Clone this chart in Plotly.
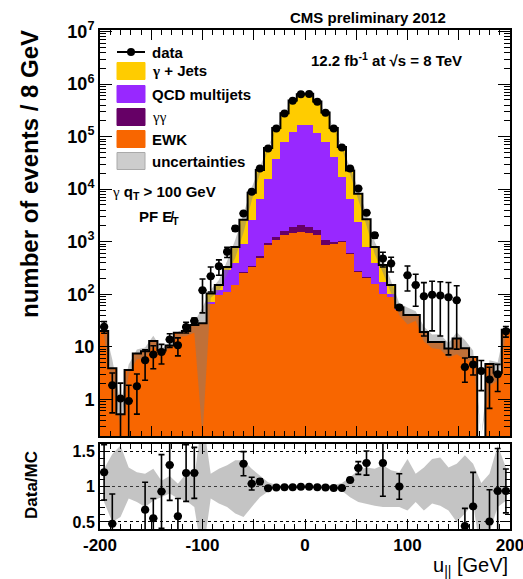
import numpy as np
import plotly.graph_objects as go

# ---------------- data (50 bins of 8 GeV from -200 to 200) ----------------
bin_lo, bin_w, n_bins = -200, 8, 50

data = [24, 1.85, 1.03, 0.93, 1.77, 5.5, 7.1, 7.9, 13.7, 10.7,
        23.8, 31, 119, 220, 340, 640, 1780, 3450, 8900, 24800,
        59600, 143000, 277000, 480000, 640000, 650000, 460000, 285000, 143000, 62000,
        24800, 10300, 3540, 1320, 480, 385, 56, 230, 149, 91,
        98, 94, 87, 77, 4.1, 4.6, 3.46, 2.37, 3.0, 19.7]
data_err = [6, 1.3, 1.0, 0.92, 1.25, 3.2, 3.3, 3.2, 4, 4,
            5.5, 4, 75, 110, 110, 140, 200, 150, 200, 300,
            500, 800, 1000, 1300, 1500, 1500, 1300, 1000, 800, 500,
            300, 250, 250, 150, 150, 120, 6, 115, 90, 75,
            78, 78, 80, 68, 2, 1.7, 2, 1.7, 1.6, 4.5]

ewk = [20, 3.9, 0.52, 3.6, 7.4, 8.2, 12.9, 8.5, 10.5, 18.4,
       20, 26, 28, 67, 96, 110, 149, 260, 330, 500,
       850, 1070, 1320, 1440, 1550, 1480, 1320, 860, 920, 1000,
       600, 265, 205, 155, 103, 89, 50, 40, 40, 19,
       12.3, 12.3, 9.2, 14.3, 9.3, 6.4, 0, 4.7, 3.2, 21]
gamgam = [0, 0, 0, 0, 0, 0, 0, 0, 0, 0,
          0, 0, 0, 0, 0, 0, 0, 10, 20, 40,
          100, 180, 250, 450, 500, 450, 330, 210, 80, 40,
          20, 10, 5, 0, 0, 0, 0, 0, 0, 0,
          0, 0, 0, 0, 0, 0, 0, 0, 0, 0]
qcd = [0, 0, 0, 0, 0, 0, 0, 0, 0, 0,
       0, 0, 0, 3, 24, 178, 251, 630, 2220, 6060,
       14850, 36750, 77430, 122110, 162950, 163070, 116350, 77930, 39500, 15960,
       5980, 2125, 590, 230, 69, 14, 3, 0, 0, 0,
       0, 0, 0, 0, 0, 0, 0, 0, 0, 0]
gjets = [0, 0, 0, 0, 0, 0, 0, 0, 0, 0,
         0, 0, 0, 33, 29, 43, 395, 1710, 5990, 16600,
         45200, 107200, 200800, 360800, 478200, 488300, 346600, 210300, 105400, 46300,
         16150, 5770, 1860, 410, 188, 46, 3, 0, 0, 0,
         0, 0, 0, 0, 0, 0, 0, 0, 0, 0]

# fractional MC uncertainty (up / down)
unc_up = [0.25, 0.46, 0.58, 0.27, 0.2, 0.18, 0.25, 0.08, 0.15, 0.04,
          0.18, 0.13, 1.0, 0.18, 0.25, 0.3, 0.37, 0.37, 0.25, 0.15,
          0.06, 0.02, 0.02, 0.02, 0.02, 0.02, 0.02, 0.02, 0.02, 0.05,
          0.13, 0.23, 0.27, 0.25, 0.3, 0.23, 0.2, 0.39, 0.18, 0.27,
          0.39, 0.41, 0.27, 0.32, 0.44, 0.32, 0.05, 0.18, 0.58, 0.27]
unc_dn = [0.22, 0.5, 0.43, 0.17, 0.22, 0.29, 0.2, 0.15, 0.1, 0.17,
          0.2, 0.29, 1.0, 0.17, 0.24, 0.29, 0.38, 0.43, 0.29, 0.15,
          0.07, 0.02, 0.02, 0.02, 0.02, 0.02, 0.02, 0.02, 0.02, 0.06,
          0.15, 0.22, 0.24, 0.27, 0.29, 0.29, 0.29, 0.34, 0.22, 0.34,
          0.24, 0.27, 0.34, 0.5, 0.38, 0.24, 1.0, 0.62, 0.29, 0.2]

# error on Data/MC ratio points
ratio_err = [0.39, 0.42, 0, 0, 0, 0.39, 0.28, 0.52, 0.5, 0.25,
             0.4, 0.36, 0, 0, 0, 0, 0, 0.17, 0.09, 0.04,
             0.015, 0.01, 0.01, 0.01, 0.01, 0.01, 0.01, 0.01, 0.01, 0.01,
             0.03, 0.09, 0.17, 0, 0.47, 0, 0.18, 0, 0, 0,
             0, 0, 0, 0, 0.25, 0.48, 0, 0.45, 0.6, 0.31]

# ---------------- derived ----------------
edges = bin_lo + bin_w * np.arange(n_bins + 1)
centers = edges[:-1] + bin_w / 2
mc = np.array(ewk) + np.array(gamgam) + np.array(qcd) + np.array(gjets)
d = np.array(data)
derr = np.array(data_err)
up = np.array(unc_up)
dn = np.array(unc_dn)
YLOG = [-0.70, 7.03]
axis_min = 10 ** YLOG[0]

ratio = np.where(mc > 0, d / np.where(mc > 0, mc, 1), np.nan)
shown = (ratio >= 0.4) & (ratio <= 1.6)
ratio_plot = [float(r) if s else None for r, s in zip(ratio, shown)]

ORANGE = "rgb(248,102,0)"
YELLOW = "rgb(255,204,0)"
PURPLE = "rgb(152,40,255)"
DPURPLE = "rgb(102,0,102)"
BAND = "rgba(125,125,125,0.45)"
FONT = "Liberation Sans, Arial, sans-serif"

fig = go.Figure()

for vals, col, name in [(ewk, ORANGE, "EWK"), (gamgam, DPURPLE, "γγ"),
                        (qcd, PURPLE, "QCD multijets"), (gjets, YELLOW, "γ + Jets")]:
    fig.add_trace(go.Bar(x=centers, y=vals, width=bin_w, marker=dict(color=col, line=dict(width=0)),
                         name=name, showlegend=False, xaxis="x", yaxis="y"))

# uncertainty band (main), clipped at the axis minimum like ROOT
band_hi = np.maximum(mc * (1 + up), axis_min)
band_lo = np.maximum(mc * (1 - dn), axis_min)
fig.add_trace(go.Scatter(x=np.concatenate([centers, centers[::-1]]),
                         y=np.concatenate([band_hi, band_lo[::-1]]),
                         fill="toself", fillcolor=BAND, line=dict(width=0), mode="lines",
                         showlegend=False, hoverinfo="skip", xaxis="x", yaxis="y"))

# MC total step outline
step_y = np.maximum(np.append(mc, mc[-1]), 1e-3)
fig.add_trace(go.Scatter(x=edges, y=step_y, mode="lines", line=dict(color="black", width=2, shape="hv"),
                         showlegend=False, xaxis="x", yaxis="y"))

# data points
fig.add_trace(go.Scatter(x=centers, y=d, mode="markers",
                         marker=dict(color="black", size=8),
                         error_y=dict(type="data", array=derr, arrayminus=np.minimum(derr, 0.999 * d),
                                      color="black", thickness=1.6, width=3),
                         error_x=dict(type="constant", value=bin_w / 2, color="black", thickness=2, width=0),
                         showlegend=False, xaxis="x", yaxis="y"))

# ratio band
fig.add_trace(go.Scatter(x=np.concatenate([centers, centers[::-1]]),
                         y=np.concatenate([1 + up, (1 - dn)[::-1]]),
                         fill="toself", fillcolor=BAND, line=dict(width=0), mode="lines",
                         showlegend=False, hoverinfo="skip", xaxis="x2", yaxis="y2"))

# ratio points
fig.add_trace(go.Scatter(x=centers, y=ratio_plot, mode="markers",
                         marker=dict(color="black", size=8),
                         error_y=dict(type="data", array=ratio_err, color="black", thickness=1.6, width=3),
                         error_x=dict(type="constant", value=bin_w / 2, color="black", thickness=2, width=0),
                         showlegend=False, xaxis="x2", yaxis="y2"))

# ---------------- layout ----------------
W, H = 523, 579
L, R, T, B = 100, 13, 30, 50
PW, PH = W - L - R, H - T - B


def px(x):
    return (x - L) / PW


def py(y):
    return (H - B - y) / PH


main_bottom = py(436)
ratio_top = py(444)

tick_font = dict(family=FONT, size=17, color="black", weight="bold")
xt_vals = list(range(-200, 201, 50))
xt_text = [str(v) if v % 100 == 0 else "" for v in xt_vals]

common_x = dict(range=[-200, 200], showline=True, linecolor="black", linewidth=2, mirror="allticks",
                ticks="inside", ticklen=10, tickcolor="black", tickwidth=1, tickmode="array",
                tickvals=xt_vals, showgrid=False, zeroline=False, automargin=False,
                minor=dict(ticks="inside", ticklen=5, dtick=10, tickcolor="black", showgrid=False))

fig.update_layout(
    width=W, height=H, margin=dict(l=L, r=R, t=T, b=B, autoexpand=False),
    paper_bgcolor="white", plot_bgcolor="white",
    barmode="stack", bargap=0, showlegend=False,
    font=dict(family=FONT, color="black"),
    xaxis=dict(domain=[0, 1], anchor="y", showticklabels=False, **common_x),
    xaxis2=dict(domain=[0, 1], anchor="y2", matches="x", ticktext=xt_text, tickfont=tick_font,
                ticklabeloverflow="allow", **common_x),
    yaxis=dict(domain=[main_bottom, 1], type="log", range=YLOG, anchor="x", automargin=False,
               tickmode="array", tickvals=[10 ** k for k in range(8)],
               ticktext=["1", "10", "10<sup>2</sup>", "10<sup>3</sup>", "10<sup>4</sup>",
                         "10<sup>5</sup>", "10<sup>6</sup>", "10<sup>7</sup>"],
               tickfont=dict(family=FONT, size=18, color="black", weight="bold"),
               showline=True, linecolor="black", linewidth=2, mirror="allticks",
               ticks="inside", ticklen=12, tickcolor="black", showgrid=False, zeroline=False,
               minor=dict(ticks="inside", ticklen=6, dtick="D1", tickcolor="black", showgrid=False)),
    yaxis2=dict(domain=[0, ratio_top], range=[0.4, 1.6], anchor="x2", automargin=False,
                tickmode="array", tickvals=[0.5, 1, 1.5], ticktext=["0.5", "1", "1.5"],
                tickfont=dict(family=FONT, size=16, color="black", weight="bold"),
                showline=True, linecolor="black", linewidth=2, mirror="allticks",
                ticks="inside", ticklen=10, tickcolor="black",
                showgrid=True, gridcolor="black", griddash="dot", gridwidth=1, zeroline=False,
                minor=dict(ticks="inside", ticklen=5, dtick=0.1, tickcolor="black", showgrid=False)),
)

shapes = []
ann = []


def text(x, y, s, size=15, anchor="left", bold=True, family=FONT, angle=0, yanchor="middle"):
    ann.append(dict(x=px(x), y=py(y), xref="paper", yref="paper", text=s, showarrow=False,
                    xanchor=anchor, yanchor=yanchor, textangle=angle,
                    font=dict(family=family, size=size, color="black", weight="bold" if bold else "normal")))


# legend
bx0, bx1 = 117, 145
shapes.append(dict(type="line", xref="paper", yref="paper", x0=px(bx0), x1=px(bx1), y0=py(52), y1=py(52),
                   line=dict(color="black", width=2)))
shapes.append(dict(type="circle", xref="paper", yref="paper", x0=px(127), x1=px(135), y0=py(56), y1=py(48),
                   fillcolor="black", line=dict(width=0)))
text(150, 52, "data")
rows = [(71, YELLOW, "<span style='font-family:Liberation Serif'>γ</span> + Jets"),
        (94, PURPLE, "QCD multijets"),
        (117, DPURPLE, "<span style='font-family:Liberation Serif;font-weight:normal'>γγ</span>"),
        (139, ORANGE, "EWK"),
        (161, "rgb(205,205,205)", "uncertainties")]
for yc, col, lab in rows:
    shapes.append(dict(type="rect", xref="paper", yref="paper", x0=px(bx0), x1=px(bx1),
                       y0=py(yc + 8.5), y1=py(yc - 8.5), fillcolor=col,
                       line=dict(color="rgb(170,170,170)" if lab == "uncertainties" else col, width=1)))
    text(150, yc, lab)

text(368, 17, "CMS preliminary 2012", size=15, anchor="center")
text(386, 60, "12.2 fb<sup>-1</sup> at √s = 8 TeV", size=15, anchor="center")
text(110, 192, "<span style='font-family:Liberation Serif;font-weight:normal'>γ</span> q<sub>T</sub> > 100 GeV", size=15)
text(137, 217, "PF E\u0338<sub>T</sub>", size=15)

# axis titles
ann.append(dict(x=px(30), y=py(174), xref="paper", yref="paper", text="number of events / 8 GeV",
                showarrow=False, textangle=-90, xanchor="center", yanchor="middle",
                font=dict(family=FONT, size=24, color="black", weight="bold")))
ann.append(dict(x=px(31), y=py(485), xref="paper", yref="paper", text="Data/MC",
                showarrow=False, textangle=-90, xanchor="center", yanchor="middle",
                font=dict(family=FONT, size=17, color="black", weight="bold")))
ann.append(dict(x=px(510), y=py(566), xref="paper", yref="paper", text="u<sub>||</sub> [GeV]",
                showarrow=False, xanchor="right", yanchor="middle",
                font=dict(family=FONT, size=20, color="black")))

fig.update_layout(shapes=shapes, annotations=ann)
fig.write_html("out.html")
